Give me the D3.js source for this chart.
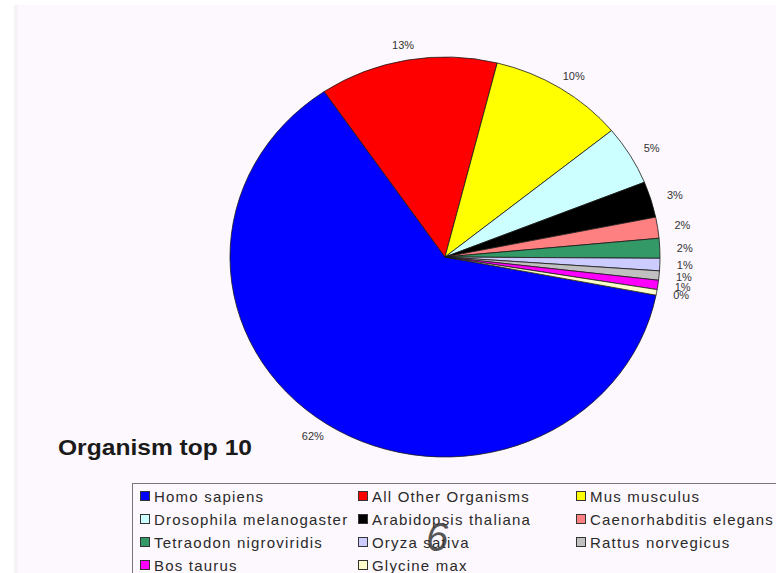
<!DOCTYPE html>
<html>
<head>
<meta charset="utf-8">
<script src="https://cdn.jsdelivr.net/npm/d3@7/dist/d3.min.js"></script>
<style>
  html, body { margin: 0; padding: 0; background: #ffffff; }
  svg { display: block; }
</style>
</head>
<body>
<svg id="chart" width="776" height="573"></svg>
<script>
// ---- data ----
const categories = [
  "Homo sapiens", "All Other Organisms", "Mus musculus",
  "Drosophila melanogaster", "Arabidopsis thaliana", "Caenorhabditis elegans",
  "Tetraodon nigroviridis", "Oryza sativa", "Rattus norvegicus",
  "Bos taurus", "Glycine max"
];
const values = [62.45, 13.4, 10.2, 4.8, 2.9, 1.7, 1.6, 1.0, 0.75, 0.75, 0.45];
const colors = [
  "#0000FF", "#FF0000", "#FFFF00",
  "#CCFFFF", "#000000", "#FF8080",
  "#339966", "#CCCCFF", "#C0C0C0",
  "#FF00FF", "#FFFFCC"
];
const title = "Organism top 10";

// ---- layout ----
const W = 776, H = 573;
const cx = 445, cy = 257, rx = 215, ry = 200;
const lrx = 240, lry = 215;
const startDeg = 101;

const svg = d3.select("#chart");

svg.append("rect").attr("x", 18).attr("y", 5).attr("width", W - 18).attr("height", H - 5)
  .attr("fill", "#fdf8fd");
svg.append("rect").attr("x", 14).attr("y", 5).attr("width", 4).attr("height", H - 5)
  .attr("fill", "#f6f3f6");

const total = d3.sum(values);
const data = categories.map((c, i) => ({ name: c, value: values[i], color: colors[i] }));

const s = startDeg * Math.PI / 180;
const pie = d3.pie().sort(null).value(d => d.value).startAngle(s).endAngle(s + 2 * Math.PI);
const arcs = pie(data);
const arc = d3.arc().innerRadius(0).outerRadius(ry);

const g = svg.append("g").attr("transform", `translate(${cx},${cy}) scale(${rx / ry},1)`);
g.selectAll("path").data(arcs).join("path")
  .attr("d", arc)
  .attr("fill", d => d.data.color)
  .attr("stroke", "#1a1a1a")
  .attr("stroke-width", 0.8)
  .attr("vector-effect", "non-scaling-stroke");

// percentage labels
svg.append("g").selectAll("text").data(arcs).join("text")
  .attr("x", d => cx + lrx * Math.sin((d.startAngle + d.endAngle) / 2))
  .attr("y", d => cy - lry * Math.cos((d.startAngle + d.endAngle) / 2))
  .attr("text-anchor", "middle")
  .attr("dominant-baseline", "central")
  .attr("font-family", "Liberation Sans, Arial, sans-serif")
  .attr("font-size", 11)
  .attr("fill", "#333")
  .text(d => Math.round(d.value / total * 100) + "%");

// title
svg.append("text")
  .attr("x", 58).attr("y", 455)
  .attr("font-family", "Liberation Sans, Arial, sans-serif")
  .attr("font-weight", "bold")
  .attr("font-size", 22)
  .attr("textLength", 194)
  .attr("lengthAdjust", "spacingAndGlyphs")
  .attr("fill", "#1a1a1a")
  .text(title);

// legend
svg.append("rect")
  .attr("x", 132.5).attr("y", 483.5).attr("width", 700).attr("height", 120)
  .attr("fill", "#fdf8fd").attr("stroke", "#777").attr("stroke-width", 1);

const colX = [140, 358, 576];
const rowY = [496, 519, 542, 565];
const lg = svg.append("g");
const items = lg.selectAll("g").data(data).join("g")
  .attr("transform", (d, i) => `translate(${colX[i % 3]},${rowY[Math.floor(i / 3)]})`);
items.append("rect")
  .attr("x", 0.5).attr("y", -4.5).attr("width", 9).attr("height", 9)
  .attr("fill", d => d.color).attr("stroke", "#333").attr("stroke-width", 1);
items.append("text")
  .attr("x", 14).attr("y", 0)
  .attr("dominant-baseline", "central")
  .attr("font-family", "Liberation Sans, Arial, sans-serif")
  .attr("font-size", 15)
  .attr("letter-spacing", 1.2)
  .attr("fill", "#2a2a2a")
  .text(d => d.name);

// video overlay digit
svg.append("text")
  .attr("x", 437).attr("y", 551)
  .attr("text-anchor", "middle")
  .attr("font-family", "Liberation Sans, Arial, sans-serif")
  .attr("font-style", "italic")
  .attr("font-size", 40)
  .attr("fill", "#3a3a3a")
  .attr("opacity", 0.85)
  .text("6");
</script>
</body>
</html>
